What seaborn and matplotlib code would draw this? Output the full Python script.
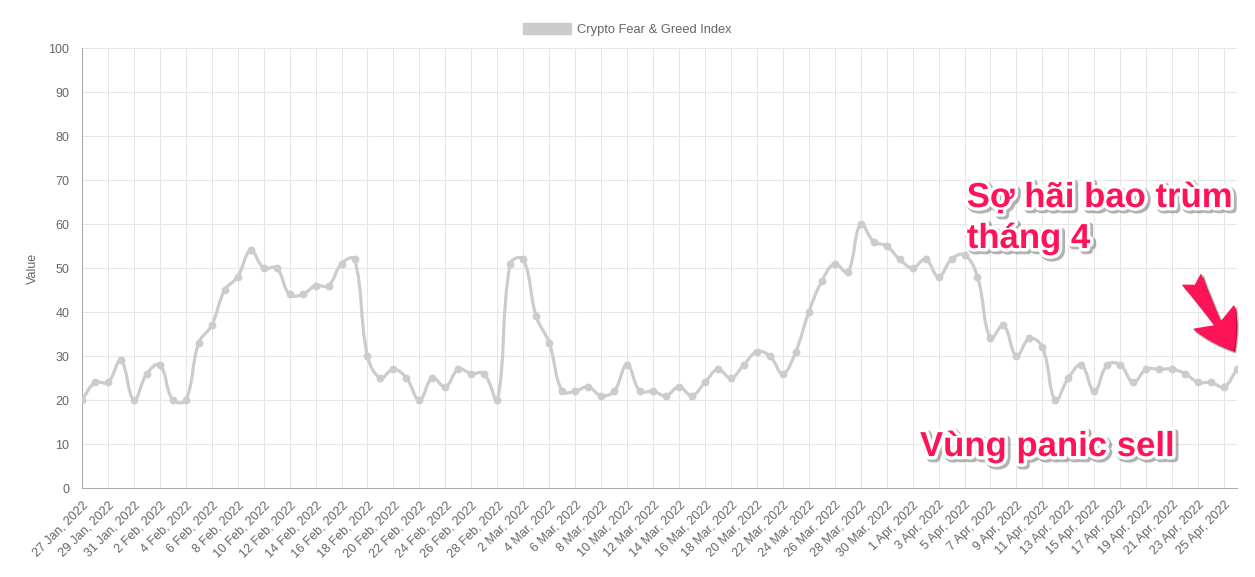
import numpy as np
import pandas as pd
import seaborn as sns
import matplotlib.pyplot as plt
import matplotlib.patheffects as pe
from matplotlib.path import Path
from matplotlib.patches import PathPatch, Patch

# daily index, 27 Jan 2022 -> 26 Apr 2022
dates = pd.date_range("2022-01-27", "2022-04-26", freq="D")
jan_values = [20, 24, 24, 29, 20]
feb_values = [26, 28, 20, 20, 33, 37, 45, 48, 54, 50, 50, 44, 44, 46, 46, 51, 52,
              30, 25, 27, 25, 20, 25, 23, 27, 26, 26, 20]
mar_values = [51, 52, 39, 33, 22, 22, 23, 21, 22, 28, 22, 22, 21, 23, 21, 24, 27,
              25, 28, 31, 30, 26, 31, 40, 47, 51, 49, 60, 56, 55, 52]
apr_values = [50, 52, 48, 52, 53, 48, 34, 37, 30, 34, 32, 20, 25, 28, 22, 28, 28,
              24, 27, 27, 27, 26, 24, 24, 23, 27]
fear_greed = jan_values + feb_values + mar_values + apr_values
series_label = "Crypto Fear & Greed Index"
tick_labels = [f"{d.day} {d.strftime('%b')}, {d.year}" for d in dates]

line_color = "#cccccc"
grid_color = "#e6e6e6"
text_color = "#666666"
pink = "#ff1358"

sns.set_theme(style="white")
plt.rcParams["font.family"] = ["Liberation Sans", "DejaVu Sans"]

df = pd.DataFrame({"day": np.arange(len(dates)), "value": fear_greed})

fig, ax = plt.subplots(figsize=(12.55, 5.77), dpi=100)
fig.subplots_adjust(left=0.0653, right=0.9857, top=0.9168, bottom=0.1542)
ax.set_xlim(0, len(dates) - 1)
ax.set_ylim(0, 100)

# chart.js style bezier (tension 0.4), computed in pixel space
pts = ax.transData.transform(df[["day", "value"]].to_numpy(dtype=float))
y_lo, y_hi = sorted(ax.transData.transform([(0, 0), (0, 100)])[:, 1])
tension = 0.4
n = len(pts)
cp_prev = np.zeros_like(pts)
cp_next = np.zeros_like(pts)
for i in range(n):
    p1 = pts[i]
    p0 = pts[i - 1] if i > 0 else p1
    p2 = pts[i + 1] if i < n - 1 else p1
    d01 = np.hypot(*(p1 - p0))
    d12 = np.hypot(*(p2 - p1))
    tot = d01 + d12
    s01 = d01 / tot if tot else 0
    s12 = d12 / tot if tot else 0
    cp_prev[i] = p1 - tension * s01 * (p2 - p0)
    cp_next[i] = p1 + tension * s12 * (p2 - p0)
cp_prev[:, 1] = np.clip(cp_prev[:, 1], y_lo, y_hi)
cp_next[:, 1] = np.clip(cp_next[:, 1], y_lo, y_hi)

verts = [pts[0]]
codes = [Path.MOVETO]
for i in range(1, n):
    verts += [cp_next[i - 1], cp_prev[i], pts[i]]
    codes += [Path.CURVE4] * 3
verts = ax.transData.inverted().transform(np.array(verts))
ax.add_patch(PathPatch(Path(verts, codes), fill=False, edgecolor=line_color,
                       lw=2.3, capstyle="round", joinstyle="round", zorder=3))

sns.scatterplot(data=df, x="day", y="value", color=line_color, s=32,
                linewidth=0, zorder=4, ax=ax, legend=False)

ax.set_xlim(0, len(dates) - 1)
ax.set_ylim(0, 100)
ax.set_xticks(df["day"][::2])
ax.set_xticklabels(tick_labels[::2], rotation=45, ha="right", rotation_mode="anchor")
ax.set_yticks(range(0, 101, 10))
ax.tick_params(axis="x", length=5, width=0.75, color=grid_color, pad=3,
               labelsize=9, labelcolor=text_color)
ax.tick_params(axis="y", length=8, width=0.75, color=grid_color, pad=1,
               labelsize=9, labelcolor=text_color)
ax.grid(True, color=grid_color, lw=0.75)
ax.set_axisbelow(True)
for s in ["top", "right"]:
    ax.spines[s].set_visible(False)
for s in ["left", "bottom"]:
    ax.spines[s].set_color("#aaaaaa")
    ax.spines[s].set_linewidth(0.75)
ax.set_xlabel("")
ax.set_ylabel("Value", fontsize=9, color=text_color, labelpad=7)

fig.legend(handles=[Patch(facecolor=line_color, edgecolor=line_color, label=series_label)],
           loc="center", bbox_to_anchor=(0.5, 0.949), frameon=False,
           handlelength=3.7, handleheight=1.0, handletextpad=0.5,
           fontsize=9.3, labelcolor=text_color)

# annotations
fx = [pe.Stroke(linewidth=6, foreground=(0, 0, 0, 0.3), offset=(1.5, -1.5)),
      pe.Stroke(linewidth=5, foreground="white"), pe.Normal()]
note_kw = dict(transform=ax.transAxes, fontsize=25, fontweight="bold", color=pink,
               ha="left", va="baseline", path_effects=fx, zorder=6)
ax.text(0.766, 0.6386, "Sợ hãi bao trùm", **note_kw)
ax.text(0.766, 0.5455, "tháng 4", **note_kw)
ax.text(0.7255, 0.0727, "Vùng panic sell", **note_kw)

ax.annotate("", xy=(0.9965, 0.3136), xytext=(0.961, 0.4727),
            xycoords="axes fraction", annotation_clip=False,
            arrowprops=dict(arrowstyle="fancy,head_length=0.9,head_width=1.1,tail_width=0.5",
                            color=pink, mutation_scale=30, shrinkA=0, shrinkB=0,
                            path_effects=[pe.Stroke(linewidth=2, foreground=(0, 0, 0, 0.25),
                                                    offset=(1.5, -1.5)), pe.Normal()]),
            zorder=6)

fig.savefig("out.png", dpi=100)
